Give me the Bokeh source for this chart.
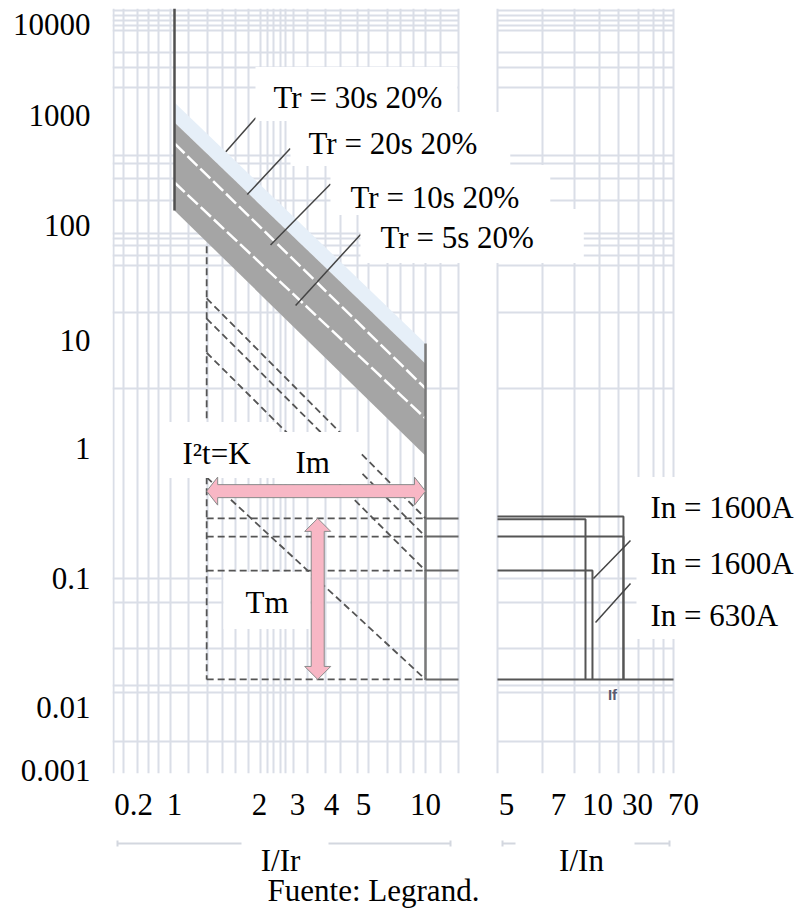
import numpy as np
from bokeh.plotting import figure
from bokeh.models import Range1d, FixedTicker, Label
from bokeh.layouts import column
from bokeh.embed import file_html
from bokeh.resources import INLINE

# ---------------- data ----------------
Y_TICKS = [10000, 1000, 100, 10, 1, 0.1, 0.01, 0.001]
Y_TICK_LABELS = ["10000", "1000", "100", "10", "1", "0.1", "0.01", "0.001"]
X_IR_TICKS = [0.2, 1, 2, 3, 4, 5, 10]
X_IR_TICK_LABELS = ["0.2", "1", "2", "3", "4", "5", "10"]
X_IN_TICKS = [5, 7, 10, 30, 70]
X_IN_TICK_LABELS = ["5", "7", "10", "30", "70"]

T_MAX = 15000
T_MIN = 0.0009

IR_PICKUP = 1.0
IM_MIN = 1.3
IM_MAX = 10.0
BAND_T_AT_PICKUP = [1390, 864, 557, 246, 137]
BAND_T_AT_IM_MAX = [9.4, 6.1, 3.6, 1.9, 0.88]
TR_LABELS = ["Tr = 30s 20%", "Tr = 20s 20%", "Tr = 10s 20%", "Tr = 5s 20%"]
TR_POINT_I = [1.52, 1.81, 2.25, 2.94]
TR_POINT_EDGE = [0.0, 1.1, 2.22, 3.28]

TM_LEVELS = [0.29, 0.21, 0.115, 0.0165]
I2T_T_AT_IM_MIN = [23.2, 15.5, 7.7, 0.6]
IM_MIN_TOP_T = 66
IM_ARROW_T = 0.47
TM_ARROW_I = 3.56

IN_LABELS = ["In = 1600A", "In = 1600A", "In = 630A"]
RIGHT_CURVE_T = [0.3, 0.285, 0.21, 0.115]
RIGHT_CURVE_IF = [20.4, 8.96, 20.4, 9.55]
IN_POINT_I = [9.64, 9.82]
IN_POINT_T = [0.1, 0.0456]
IF_LABEL_I = 15.1
IF_LABEL_T = 0.0126

# ---------------- layout / style ----------------
W, H_MAIN, H_FOOT = 801, 830, 81
FRAME_L, FRAME_T, FRAME_B = 112, 8, 773
Y_SPAN = FRAME_B - FRAME_T
# positions (px from frame bottom) where the schematic axis draws each decade
Y_TICK_POS = [749, 658, 548, 433, 325, 195, 66, 3]
X_IR_TICK_POS = [133, 174, 259, 297, 331, 363, 425]
X_IN_TICK_POS = [506, 558, 597, 637, 683]
LEFT_PANEL = (112, 458)
RIGHT_PANEL = (497, 673)
GRID_Y_PX = [10, 15, 20, 25, 30, 52, 67, 87, 155, 163, 178, 200, 233, 238, 245,
             255, 265, 312, 388, 578, 602, 648, 685, 692, 741]
GRID_X_LEFT = [113, 123, 137, 148, 158, 170, 188, 207, 222, 235, 248, 260, 267, 273,
               280, 285, 293, 307, 325, 340, 357, 368, 387, 400, 413, 425, 440, 458]
GRID_X_RIGHT = [497, 542, 574, 599, 618, 638, 653, 663, 673]

FONT = "Liberation Serif"
FS = "31px"
GRID_C = "#DADEE7"
DARK = "#555555"
PINK = "#F8B7C5"


def make_warp(vals, pos):
    lv = np.log10(np.asarray(vals, float))
    ps = np.asarray(pos, float)
    o = np.argsort(lv)
    lv, ps = lv[o], ps[o]

    def f(v):
        l = np.log10(np.asarray(v, float))
        out = np.interp(l, lv, ps)
        lo_s = (ps[1] - ps[0]) / (lv[1] - lv[0])
        hi_s = (ps[-1] - ps[-2]) / (lv[-1] - lv[-2])
        out = np.where(l < lv[0], ps[0] + (l - lv[0]) * lo_s, out)
        out = np.where(l > lv[-1], ps[-1] + (l - lv[-1]) * hi_s, out)
        return out
    return f


yw = make_warp(Y_TICKS, Y_TICK_POS)
xl = make_warp(X_IR_TICKS, X_IR_TICK_POS)
xr = make_warp(X_IN_TICKS, X_IN_TICK_POS)


def ypx(py):
    return FRAME_B - py


p = figure(width=W, height=H_MAIN, output_backend="svg", toolbar_location=None,
           x_range=Range1d(FRAME_L, W), y_range=Range1d(0, Y_SPAN),
           min_border_left=FRAME_L, min_border_right=0, min_border_top=FRAME_T,
           min_border_bottom=H_MAIN - FRAME_B)
p.outline_line_color = None
p.xgrid.visible = False
p.ygrid.visible = False
p.background_fill_color = "white"
p.border_fill_color = "white"

# axes
yticks = [round(float(v), 3) for v in yw(Y_TICKS)]
p.yaxis.ticker = FixedTicker(ticks=yticks)
p.yaxis.major_label_overrides = {t: s for t, s in zip(yticks, Y_TICK_LABELS)}
xticks_l = [round(float(v), 3) for v in xl(X_IR_TICKS)]
xticks_r = [round(float(v), 3) for v in xr(X_IN_TICKS)]
p.xaxis.ticker = FixedTicker(ticks=xticks_l + xticks_r)
ov = {t: s for t, s in zip(xticks_l, X_IR_TICK_LABELS)}
ov.update({t: s for t, s in zip(xticks_r, X_IN_TICK_LABELS)})
p.xaxis.major_label_overrides = ov
for ax in (p.xaxis[0], p.yaxis[0]):
    ax.axis_line_color = None
    ax.major_tick_line_color = None
    ax.minor_tick_line_color = None
    ax.major_label_text_font = FONT
    ax.major_label_text_font_size = FS
    ax.major_label_text_color = "black"
p.yaxis.major_label_standoff = 16
p.xaxis.major_label_standoff = 14

# grid (background of the log paper)
gy = [ypx(v) for v in GRID_Y_PX]
for (a, b) in (LEFT_PANEL, RIGHT_PANEL):
    p.segment(x0=[a] * len(gy), x1=[b] * len(gy), y0=gy, y1=gy, line_color=GRID_C, line_width=2)
gx = GRID_X_LEFT + GRID_X_RIGHT
p.segment(x0=gx, x1=gx, y0=[0] * len(gx), y1=[Y_SPAN] * len(gx), line_color=GRID_C, line_width=2)

# long-time band
x1, x10 = float(xl(IR_PICKUP)), float(xl(IM_MAX))
e1 = yw(BAND_T_AT_PICKUP)
e10 = yw(BAND_T_AT_IM_MAX)
p.patch([x1, x10, x10, x1], [e1[0], e10[0], e10[1], e1[1]], fill_color="#E6EFF8", line_color=None)
p.patch([x1, x10, x10, x1], [e1[1], e10[1], e10[4], e1[4]], fill_color="#A5A5A5", line_color=None)
for k in (2, 3):
    p.line([x1, x10], [e1[k], e10[k]], line_color="white", line_width=2.5, line_dash="14 4")

# pickup vertical at I/Ir = 1 and Im max vertical
p.line([x1, x1], [yw(T_MAX), e1[4]], line_color="#505050", line_width=2.5)
p.line([x10, x10], [e10[0], yw(TM_LEVELS[-1])], line_color="#7A7A7A", line_width=2.5)

# short-time dashed family
xm = float(xl(IM_MIN))
p.line([xm, xm], [yw(IM_MIN_TOP_T), yw(TM_LEVELS[-1])], line_color=DARK, line_width=1.8, line_dash="7 4")
for t in TM_LEVELS:
    p.line([xm, x10], [yw(t), yw(t)], line_color=DARK, line_width=1.8, line_dash="7 4")
for t0, t1 in zip(I2T_T_AT_IM_MIN, TM_LEVELS):
    p.line([xm, x10], [yw(t0), yw(t1)], line_color=DARK, line_width=1.8, line_dash="7 4")
for t in TM_LEVELS:
    p.line([x10, LEFT_PANEL[1]], [yw(t), yw(t)], line_color="#666666", line_width=2)

# right panel (instantaneous)
for t, i_f in zip(RIGHT_CURVE_T, RIGHT_CURVE_IF):
    xf = float(xr(i_f))
    p.line([RIGHT_PANEL[0], xf, xf], [yw(t), yw(t), yw(TM_LEVELS[-1])], line_color=DARK, line_width=2)
p.line([RIGHT_PANEL[0], RIGHT_PANEL[1]], [yw(TM_LEVELS[-1])] * 2, line_color=DARK, line_width=2)

# callouts for Tr
TR_OFFS = [(30, 34), (43, 46), (60, 61), (65, 71)]
for i_pt, edge, (dx, dy) in zip(TR_POINT_I, TR_POINT_EDGE, TR_OFFS):
    xp = float(xl(i_pt))
    fr = (xp - x1) / (x10 - x1)
    k = int(np.floor(edge)); f = edge - k
    ya = e1[k] + fr * (e10[k] - e1[k])
    yb = e1[min(k + 1, 4)] + fr * (e10[min(k + 1, 4)] - e1[min(k + 1, 4)])
    yp = ya + f * (yb - ya)
    p.line([xp, xp + dx], [yp, yp + dy], line_color="#444444", line_width=1.5)

IN_OFFS = [(37, 38), (35, 39)]
for i_pt, t_pt, (dx, dy) in zip(IN_POINT_I, IN_POINT_T, IN_OFFS):
    xp, yp = float(xr(i_pt)), float(yw(t_pt))
    p.line([xp, xp + dx], [yp, yp + dy], line_color="#444444", line_width=1.5)


def dbl_arrow(xa, ya, xb, yb, sw, hw, hl):
    if ya == yb:
        pts = [(xa, ya), (xa + hl, ya + hw), (xa + hl, ya + sw), (xb - hl, ya + sw), (xb - hl, ya + hw),
               (xb, ya), (xb - hl, ya - hw), (xb - hl, ya - sw), (xa + hl, ya - sw), (xa + hl, ya - hw)]
    else:
        top, bot = max(ya, yb), min(ya, yb)
        pts = [(xa, top), (xa + hw, top - hl), (xa + sw, top - hl), (xa + sw, bot + hl), (xa + hw, bot + hl),
               (xa, bot), (xa - hw, bot + hl), (xa - sw, bot + hl), (xa - sw, top - hl), (xa - hw, top - hl)]
    p.patch([q[0] for q in pts], [q[1] for q in pts], fill_color=PINK, line_color="#8A8A8A",
            line_width=1, level="overlay")


ya_im = float(yw(IM_ARROW_T))
dbl_arrow(xm, ya_im, x10, ya_im, 6.5, 14, 11)
xt = float(xl(TM_ARROW_I))
dbl_arrow(xt, float(yw(TM_LEVELS[0])), xt, float(yw(TM_LEVELS[-1])), 6.5, 13, 13)


def lab(fig, x, y, text, pad=None, size=FS, font=FONT, align="left", color="black", style="normal"):
    """x: left (or centre) of the text itself, y: centre of the text (position units)."""
    kw = dict(text=text, text_font=font, text_font_size=size, text_align=align,
              text_baseline="middle", text_color=color, text_font_style=style)
    if pad is not None:
        l, r, t, b = pad
        kw.update(background_fill_color="white", background_fill_alpha=1.0,
                  padding=dict(left=l, right=r, top=t, bottom=b))
        x = x - l
        y = y + (t - b) / 2.0
    fig.add_layout(Label(x=x, y=y, **kw))


TR_TXT_X = [273, 308, 350, 380]
TR_TXT_Y = [97, 143, 197, 237]
TR_PAD = [(18, 15, 13, 6), (18, 33, 14, 5), (20, 31, 15, 0), (20, 50, 11, 8)]
for s, x, y, pd in zip(TR_LABELS, TR_TXT_X, TR_TXT_Y, TR_PAD):
    lab(p, x, ypx(y), s, pd)

IN_TXT_Y = [507, 563, 615]
IN_PAD = [(14, 10, 13, 11), (14, 10, 11, 9), (14, 10, 9, 6)]
for s, y, pd in zip(IN_LABELS, IN_TXT_Y, IN_PAD):
    lab(p, 650, ypx(y), s, pd)

lab(p, 182, ypx(453), "I²t=K", (20, 25, 14, 7))
lab(p, 295, ypx(462), "Im", (20, 31, 13, 4))
lab(p, 245, ypx(602), "Tm", (22, 22, 13, 9))
lab(p, 13, ypx(53), "t (s)")
lab(p, float(xr(IF_LABEL_I)), float(yw(IF_LABEL_T)), "If", size="15px", font="Liberation Sans",
    align="center", color="#5B5B70", style="bold")

# ---------------- footer (shares the x positions of the chart) ----------------
f = figure(width=W, height=H_FOOT, output_backend="svg", toolbar_location=None,
           x_range=p.x_range, y_range=Range1d(0, H_FOOT),
           min_border_left=FRAME_L, min_border_right=0, min_border_top=0, min_border_bottom=0)
f.axis.visible = False
f.grid.visible = False
f.outline_line_color = None
DECO = [(117, 241), (328, 450), (502, 515), (634, 669)]
for a, b in DECO:
    f.line([a, b], [68, 68], line_color="#D3D7DF", line_width=2)
for xx in (117, 450, 502, 669):
    f.line([xx, xx], [65, 71], line_color="#D3D7DF", line_width=2)
lab(f, 280, 51, "I/Ir", align="center")
lab(f, 581, 51, "I/In", align="center")
lab(f, 373, 21, "Fuente: Legrand.", align="center")

layout = column(p, f, spacing=0)
open("out.html", "w").write(file_html(layout, INLINE))
